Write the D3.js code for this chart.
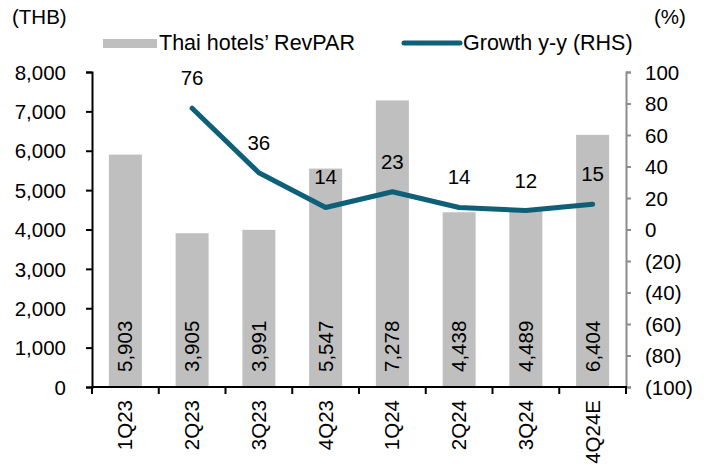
<!DOCTYPE html>
<html><head><meta charset="utf-8">
<script src="https://cdn.jsdelivr.net/npm/d3@7"></script>
<style>
body{margin:0;background:#fff;}
text{font-family:"Liberation Sans",Arial,sans-serif;fill:#000;}
</style></head>
<body>
<svg id="c" width="708" height="468"></svg>
<script>
const categories = ["1Q23","2Q23","3Q23","4Q23","1Q24","2Q24","3Q24","4Q24E"];
const revpar = [5903,3905,3991,5547,7278,4438,4489,6404];
const growth = [null,77,36,14,24,14,12,16];
const growthLabels = ["","76","36","14","23","14","12","15"];
const leftTicks = [0,1000,2000,3000,4000,5000,6000,7000,8000];
const rightTicks = [-100,-80,-60,-40,-20,0,20,40,60,80,100];

const svg = d3.select("#c");
const fs = 20.5;
const L = 92, R = 626, T = 72, B = 387;
const xb = d3.scaleBand().domain(categories).range([L,R]);
const yL = d3.scaleLinear().domain([0,8000]).range([B,T]);
const yR = d3.scaleLinear().domain([-100,100]).range([B,T]);

// bars
svg.append("g").selectAll("rect").data(revpar).join("rect")
  .attr("x",(d,i)=>xb(categories[i])+xb.bandwidth()/2-16.5)
  .attr("width",33)
  .attr("y",d=>yL(d)).attr("height",d=>B-yL(d))
  .attr("fill","#BFBFBF");

// bar labels
svg.append("g").selectAll("text").data(revpar).join("text")
  .attr("transform",(d,i)=>`translate(${xb(categories[i])+xb.bandwidth()/2+7},${B-15}) rotate(-90)`)
  .attr("font-size",fs).attr("text-anchor","start")
  .text(d=>d3.format(",")(d));

// left axis
const gl = svg.append("g").attr("transform",`translate(${L},0)`)
  .call(d3.axisLeft(yL).tickValues(leftTicks).tickSize(6).tickPadding(20).tickFormat(d3.format(",")));
gl.select(".domain").attr("stroke","#000").attr("stroke-width",2);
gl.selectAll(".tick line").attr("stroke","#000").attr("stroke-width",2);
gl.selectAll("text").attr("font-size",fs).attr("font-family","Liberation Sans").attr("fill","#000").attr("dy","0.35em");

// right axis
const fmtR = d => d<0 ? `(${-d})` : `${d}`;
const gr = svg.append("g").attr("transform",`translate(${R},0)`)
  .call(d3.axisRight(yR).tickValues(rightTicks).tickSize(5).tickPadding(14).tickFormat(fmtR));
gr.select(".domain").attr("stroke","#8C8C8C").attr("stroke-width",2);
gr.selectAll(".tick line").attr("stroke","#8C8C8C").attr("stroke-width",2);
gr.selectAll("text").attr("font-size",fs).attr("font-family","Liberation Sans").attr("fill","#000").attr("dy","0.35em");

// x axis
const gx = svg.append("g").attr("transform",`translate(0,${B})`);
gx.append("line").attr("x1",L-1).attr("x2",R+1).attr("stroke","#000").attr("stroke-width",2);
const bounds = categories.map(c=>xb(c)).concat([R]);
gx.selectAll("line.t").data(bounds).join("line").attr("class","t")
  .attr("x1",d=>d).attr("x2",d=>d).attr("y1",0).attr("y2",7).attr("stroke","#000").attr("stroke-width",2);
gx.selectAll("text").data(categories).join("text")
  .attr("transform",d=>`translate(${xb(d)+xb.bandwidth()/2+7},13) rotate(-90)`)
  .attr("font-size",fs).attr("text-anchor","end").text(d=>d);

// growth line
const pts = growth.map((g,i)=>({c:categories[i],g,lab:growthLabels[i]})).filter(d=>d.g!==null);
svg.append("path").datum(pts)
  .attr("d",d3.line().x(d=>xb(d.c)+xb.bandwidth()/2).y(d=>yR(d.g)))
  .attr("fill","none").attr("stroke","#0E5F78").attr("stroke-width",5)
  .attr("stroke-linecap","round").attr("stroke-linejoin","round");
svg.append("g").selectAll("text").data(pts).join("text")
  .attr("x",d=>xb(d.c)+xb.bandwidth()/2).attr("y",d=>yR(d.g)-23)
  .attr("font-size",fs).attr("text-anchor","middle").text(d=>d.lab);

// legend
const lfs = 21.5;
svg.append("rect").attr("x",103).attr("y",39).attr("width",54).attr("height",9).attr("fill","#BFBFBF");
svg.append("text").attr("x",159).attr("y",50).attr("font-size",lfs).text("Thai hotels’ RevPAR");
svg.append("line").attr("x1",404).attr("x2",460).attr("y1",43).attr("y2",43)
  .attr("stroke","#0E5F78").attr("stroke-width",5).attr("stroke-linecap","round");
svg.append("text").attr("x",463).attr("y",50).attr("font-size",lfs).text("Growth y-y (RHS)");

// axis titles
svg.append("text").attr("x",12).attr("y",24).attr("font-size",fs).text("(THB)");
svg.append("text").attr("x",654).attr("y",24).attr("font-size",fs).text("(%)");
</script>
</body></html>
